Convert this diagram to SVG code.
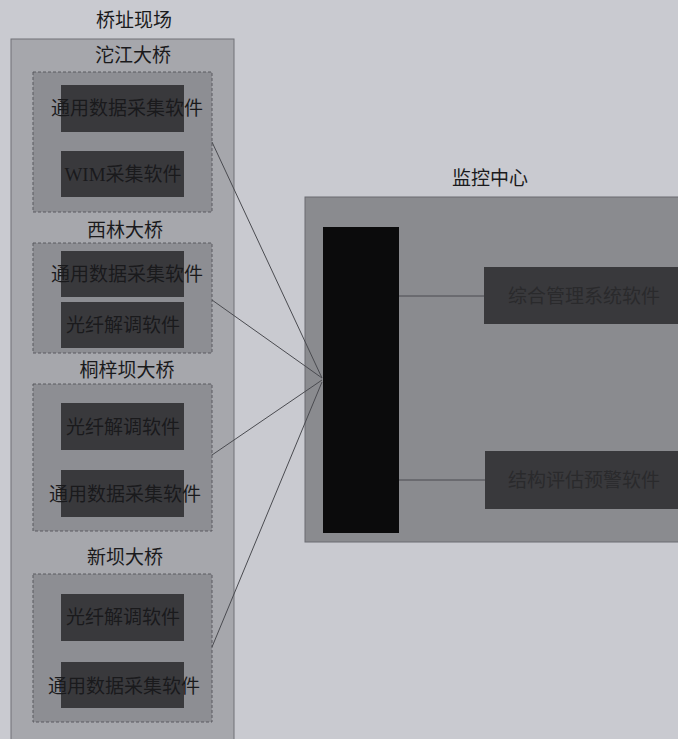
<svg xmlns="http://www.w3.org/2000/svg" width="678" height="739" viewBox="0 0 678 739">
<style>
text{font-family:"Liberation Serif","Noto Sans CJK SC",serif;font-size:19px;fill:#1a1a1c;text-anchor:middle;dominant-baseline:central}
.outer{fill:#a6a7ac;stroke:#707176;stroke-width:1}
.dash{fill:#8d8e93;stroke:#5a5b60;stroke-width:1;stroke-dasharray:3 2}
.sw{fill:#39393c}
.center{fill:#8a8b8f;stroke:#6a6b70;stroke-width:1}
.bar{fill:#0b0b0c}
.conn{stroke:#4a4b50;stroke-width:1;fill:none}
.lt{fill:#2a2a2c}
</style>
<rect x="0" y="0" width="678" height="739" fill="#c9cad0"/>
<g id="site">
<text x="134" y="20">桥址现场</text>
<rect class="outer" x="11" y="39" width="223" height="710"/>
</g>
<g id="bridge1">
<text x="133" y="55">沱江大桥</text>
<rect class="dash" x="33" y="72" width="179" height="140"/>
<g id="b1s1"><rect class="sw" x="61" y="85" width="123" height="47"/><text x="127" y="108">通用数据采集软件</text></g>
<g id="b1s2"><rect class="sw" x="61" y="151" width="123" height="46"/><text x="123" y="174">WIM采集软件</text></g>
</g>
<g id="bridge2">
<text x="125" y="230">西林大桥</text>
<rect class="dash" x="33" y="243" width="179" height="110"/>
<g id="b2s1"><rect class="sw" x="61" y="251" width="123" height="46"/><text x="127" y="274">通用数据采集软件</text></g>
<g id="b2s2"><rect class="sw" x="61" y="302" width="123" height="46"/><text x="123" y="325">光纤解调软件</text></g>
</g>
<g id="bridge3">
<text x="127" y="370">桐梓坝大桥</text>
<rect class="dash" x="33" y="384" width="179" height="147"/>
<g id="b3s1"><rect class="sw" x="61" y="403" width="123" height="47"/><text x="123" y="427">光纤解调软件</text></g>
<g id="b3s2"><rect class="sw" x="61" y="470" width="123" height="47"/><text x="125" y="494">通用数据采集软件</text></g>
</g>
<g id="bridge4">
<text x="125" y="557">新坝大桥</text>
<rect class="dash" x="33" y="574" width="179" height="148"/>
<g id="b4s1"><rect class="sw" x="61" y="594" width="123" height="47"/><text x="123" y="617">光纤解调软件</text></g>
<g id="b4s2"><rect class="sw" x="61" y="662" width="123" height="46"/><text x="124" y="686">通用数据采集软件</text></g>
</g>
<g id="monitor">
<text x="490" y="178">监控中心</text>
<rect class="center" x="305" y="197" width="380" height="345"/>
<rect class="bar" x="323" y="227" width="76" height="306"/>
</g>
<g id="mgmt"><rect class="sw" x="484" y="267" width="200" height="57"/><text class="lt" x="584" y="296">综合管理系统软件</text></g>
<g id="eval"><rect class="sw" x="485" y="451" width="200" height="58"/><text class="lt" x="584" y="480">结构评估预警软件</text></g>
<g id="connectors">
<line class="conn" x1="212" y1="142" x2="322" y2="378"/>
<line class="conn" x1="212" y1="300" x2="322" y2="378"/>
<line class="conn" x1="212" y1="455" x2="322" y2="380"/>
<line class="conn" x1="212" y1="647" x2="322" y2="382"/>
<line class="conn" x1="399" y1="296" x2="484" y2="296"/>
<line class="conn" x1="399" y1="480" x2="485" y2="480"/>
</g>
</svg>
